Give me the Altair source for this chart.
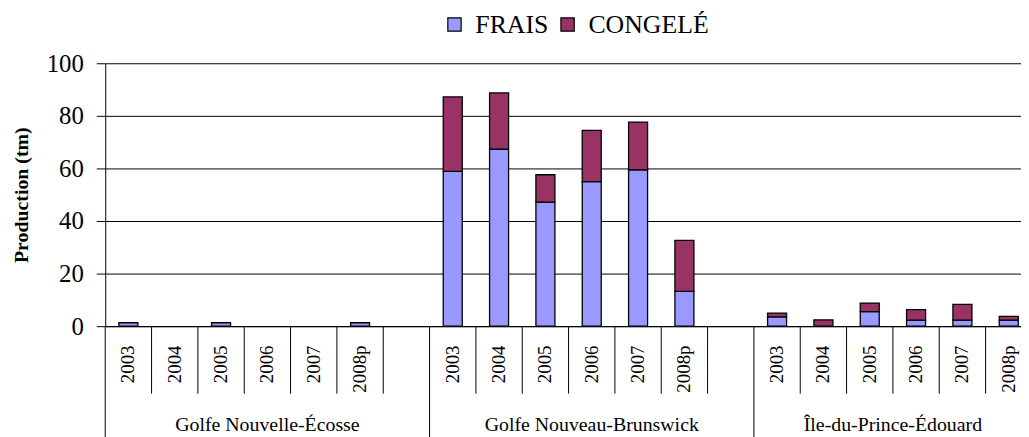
import altair as alt
import pandas as pd

FONT = "Liberation Serif"

regions = ["Golfe Nouvelle-Écosse", "Golfe Nouveau-Brunswick", "Île-du-Prince-Édouard"]
region_codes = ["NE", "NB", "PE"]
years = ["2003", "2004", "2005", "2006", "2007", "2008p"]
series = ["FRAIS", "CONGELÉ"]
colors = ["#9999FF", "#993366"]

frais_ne = [1.3, 0, 1.3, 0, 0, 1.3]
congele_ne = [0, 0, 0, 0, 0, 0]
frais_nb = [58.9, 67.3, 47.2, 55.0, 59.5, 13.2]
congele_nb = [28.3, 21.4, 10.4, 19.5, 18.1, 19.4]
frais_pe = [3.5, 0, 5.5, 2.3, 2.3, 2.3]
congele_pe = [1.5, 2.4, 3.3, 4.0, 6.0, 1.4]

frais_all = [frais_ne, frais_nb, frais_pe]
congele_all = [congele_ne, congele_nb, congele_pe]

# category keys (with an empty slot between regions)
keys = []
for i, code in enumerate(region_codes):
    keys += [f"{code}|{y}" for y in years]
    if i < len(region_codes) - 1:
        keys.append(f"gap{i}")

rows = []
for code, fr, co in zip(region_codes, frais_all, congele_all):
    for y, f, c in zip(years, fr, co):
        rows.append({"key": f"{code}|{y}", "serie": series[0], "value": f, "ord": 0})
        rows.append({"key": f"{code}|{y}", "serie": series[1], "value": c, "ord": 1})
df = pd.DataFrame(rows)

group_starts = [f"{c}|{years[0]}" for c in region_codes]
short_ticks = pd.DataFrame({"key": [k for k in keys if k not in group_starts]})
long_ticks = pd.DataFrame({"key": group_starts})
lab12 = pd.DataFrame({"key": [f"{c}|2006" for c in region_codes[:2]], "label": regions[:2]})
lab3 = pd.DataFrame({"key": [f"{region_codes[2]}|2006"], "label": [regions[2]]})

xscale = alt.Scale(domain=keys, range=[0, 934], paddingInner=0, paddingOuter=0)

bars = alt.Chart(df).transform_filter("datum.value > 0").mark_bar(
    width={"band": 0.41}, stroke="black", strokeWidth=1.3
).encode(
    x=alt.X("key:N", scale=xscale, sort=keys, title=None,
            axis=alt.Axis(labelExpr="indexof(datum.value,'|') > 0 ? split(datum.value,'|')[1] : ''",
                          labelAngle=270, labelAlign="right", labelBaseline="middle",
                          labelPadding=19, labelFont=FONT, labelFontSize=19, labelColor="black",
                          ticks=False, domain=True, domainColor="black", domainWidth=1,
                          grid=False, labelOverlap=False)),
    y=alt.Y("value:Q", stack="zero",
            scale=alt.Scale(domain=[0, 100], nice=False),
            axis=alt.Axis(values=[0, 20, 40, 60, 80, 100], title="Production (tm)",
                          titleFont=FONT, titleFontSize=20, titleFontWeight="bold", titleColor="black",
                          titlePadding=15, labelFont=FONT, labelFontSize=25, labelColor="black",
                          labelPadding=13, tickSize=9, tickColor="black", domainColor="black",
                          grid=True, gridColor="black", gridWidth=1)),
    color=alt.Color("serie:N", scale=alt.Scale(domain=series, range=colors),
                    legend=alt.Legend(orient="none", legendX=339, legendY=-52, direction="horizontal",
                                      title=None, symbolType="square", symbolSize=180,
                                      symbolStrokeColor="black", symbolStrokeWidth=1.2,
                                      labelFont=FONT, labelFontSize=26, labelColor="black",
                                      labelOffset=8, columnPadding=6, padding=0)),
    order=alt.Order("ord:Q", sort="ascending"),
)

short_rules = alt.Chart(short_ticks).mark_rule(color="black", strokeWidth=1).encode(
    x=alt.X("key:N", scale=xscale, sort=keys, bandPosition=0),
    y=alt.value(265), y2=alt.value(333),
)
long_rules = alt.Chart(long_ticks).mark_rule(color="black", strokeWidth=1).encode(
    x=alt.X("key:N", scale=xscale, sort=keys, bandPosition=0),
    y=alt.value(265), y2=alt.value(385),
)
text12 = alt.Chart(lab12).mark_text(font=FONT, fontSize=20, color="black", baseline="alphabetic").encode(
    x=alt.X("key:N", scale=xscale, sort=keys, bandPosition=0.5),
    y=alt.value(371), text="label:N",
)
text3 = alt.Chart(lab3).mark_text(font=FONT, fontSize=20, color="black", baseline="alphabetic").encode(
    x=alt.X("key:N", scale=xscale, sort=keys, bandPosition=0),
    y=alt.value(371), text="label:N",
)

chart = alt.layer(bars, short_rules, long_rules, text12, text3).properties(
    width=923, height=265,
    autosize=alt.AutoSizeParams(type="none"),
    padding={"left": 98, "top": 54, "right": 0, "bottom": 110},
).configure(
    background="white", font=FONT
).configure_view(
    stroke=None
).configure_axis(
    labelFont=FONT, titleFont=FONT
).configure_legend(
    labelFont=FONT
).configure_text(font=FONT)

chart.save("out.html", embed_options={"renderer": "svg", "actions": False})
